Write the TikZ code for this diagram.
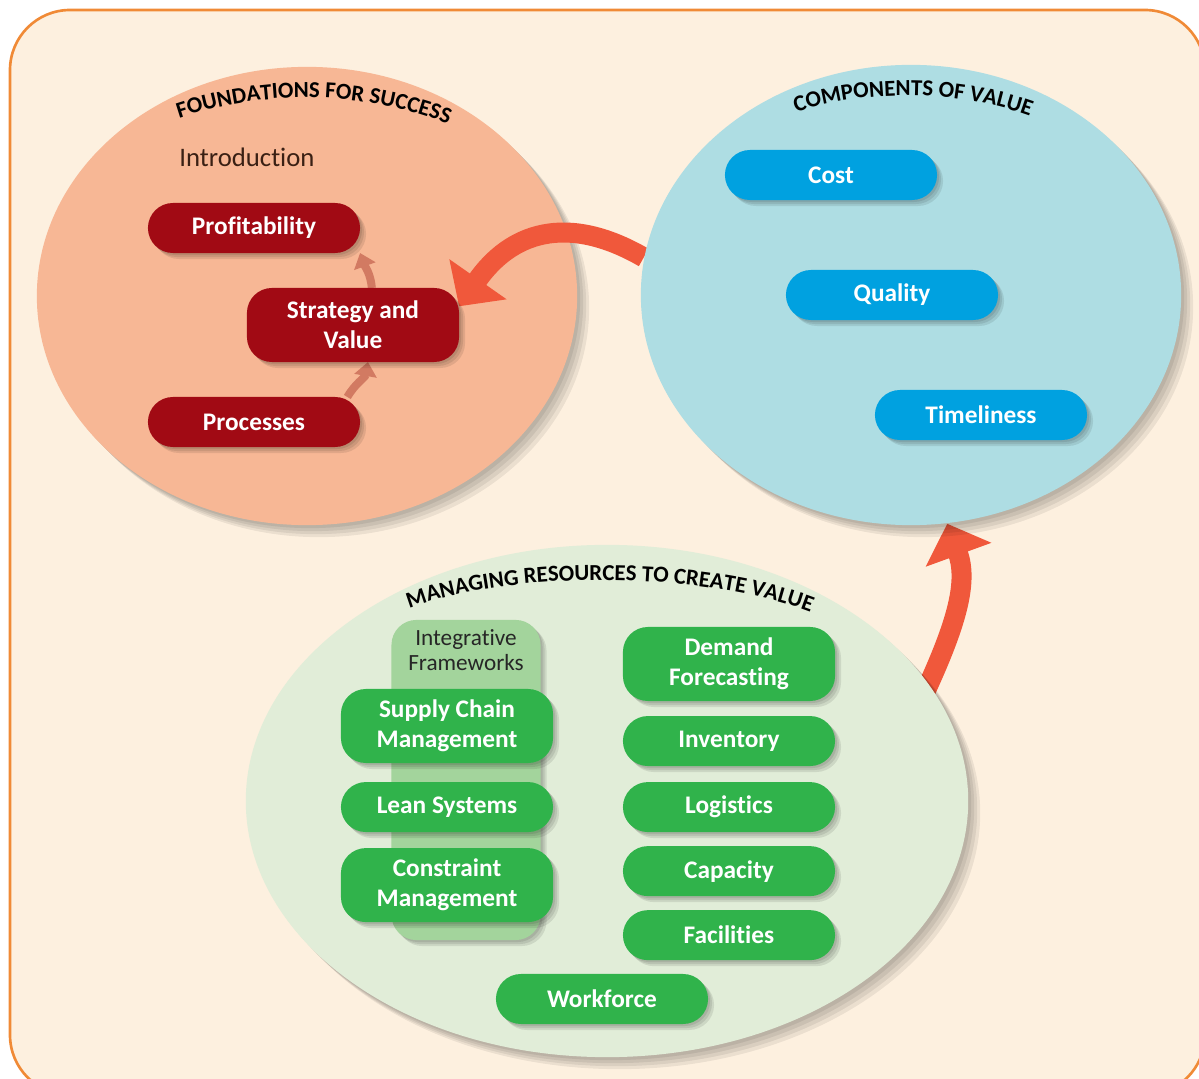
\documentclass[tikz,border=0pt]{standalone}
\usepackage{fontspec}
\setmainfont{Carlito}[Ligatures=NoCommon]
\usetikzlibrary{positioning, arrows.meta, decorations.text, shapes.geometric, shadows}
\definecolor{framefill}{HTML}{FDF0DF}
\definecolor{frameline}{HTML}{F08A36}
\definecolor{foundfill}{HTML}{F7B795}
\definecolor{compfill}{HTML}{AEDDE3}
\definecolor{managefill}{HTML}{E1EDD8}
\definecolor{pillred}{HTML}{A10A14}
\definecolor{pillblue}{HTML}{00A1E0}
\definecolor{pillgreen}{HTML}{30B34B}
\definecolor{integfill}{HTML}{A3D49C}
\definecolor{bigorange}{HTML}{F0583B}
\definecolor{smallorange}{HTML}{D27A62}
\definecolor{introcol}{HTML}{3A2014}
\newcommand{\pillfont}{\fontsize{7.2}{8.5}\selectfont\bfseries}
\newcommand{\titlefont}{\fontsize{6.5}{8}\selectfont\bfseries}
\pgfdeclarelayer{back}
\pgfdeclarelayer{links}
\pgfsetlayers{back,links,main}
\tikzset{
    outerbox/.style={draw=frameline, line width=0.75pt, fill=framefill, rounded corners=0.6cm},
    zoneshadow/.style={
        general shadow={fill=black, opacity=0.07, shadow xshift=0.03cm, shadow yshift=-0.03cm},
        general shadow={fill=black, opacity=0.07, shadow xshift=0.06cm, shadow yshift=-0.06cm},
        general shadow={fill=black, opacity=0.07, shadow xshift=0.09cm, shadow yshift=-0.09cm},
        general shadow={fill=black, opacity=0.07, shadow xshift=0.12cm, shadow yshift=-0.12cm}},
    pillshadow/.style={
        general shadow={fill=black, opacity=0.09, shadow xshift=0.02cm, shadow yshift=-0.02cm},
        general shadow={fill=black, opacity=0.09, shadow xshift=0.04cm, shadow yshift=-0.04cm},
        general shadow={fill=black, opacity=0.09, shadow xshift=0.06cm, shadow yshift=-0.06cm}},
    zone/.style={ellipse, inner sep=0pt, zoneshadow},
    pill/.style={rectangle, rounded corners=0.25cm, minimum width=2.12cm, minimum height=0.5cm, inner sep=0pt, outer sep=0pt, text=white, align=center, font=\pillfont, pillshadow},
    tall/.style={minimum height=0.74cm},
    fpill/.style={pill, fill=pillred},
    cpill/.style={pill, fill=pillblue},
    mpill/.style={pill, fill=pillgreen},
    intback/.style={rectangle, rounded corners=0.25cm, fill=integfill, minimum width=1.49cm, minimum height=3.2cm, pillshadow},
    intlabel/.style={font=\fontsize{6.6}{7.1}\selectfont, text=black!85, align=center, inner sep=0pt},
    introtext/.style={font=\fontsize{7.6}{9}\selectfont, text=introcol},
    zonetitle/.style={decorate, decoration={text along path, text align=center, text={|\titlefont|#1}}},
    bigarrow/.style={-{Triangle[width=0.68cm, length=0.33cm]}, line width=0.2cm, draw=bigorange},
    smallarrow/.style={-{Triangle[width=0.22cm, length=0.14cm]}, line width=0.08cm, draw=smallorange} }
\begin{document}
\begin{tikzpicture}[x=0.01cm, y=-0.01cm, node distance=0.15cm]
  \useasboundingbox (0,0) rectangle (1199,1079);
  \begin{pgfonlayer}{back}
    \draw[outerbox] (10,10) rectangle (1205,1095);
    \node[zone, fill=foundfill, minimum width=5.4cm, minimum height=4.58cm] (found) at (307,296) {};
  \end{pgfonlayer}
  \node[zone, fill=compfill, minimum width=5.4cm, minimum height=4.6cm] (comp) at (911,295) {};
  \node[zone, fill=managefill, minimum width=7.22cm, minimum height=5.12cm] (manage) at (607,801) {};
  % ---- titles
  \path[zonetitle=FOUNDATIONS FOR SUCCESS] (165,123) .. controls (260,88) and (365,88) .. (462,130);
  \path[zonetitle=COMPONENTS OF VALUE] (786,116) .. controls (860,88) and (960,88) .. (1040,120);
  \path[zonetitle=MANAGING RESOURCES TO CREATE VALUE] (400,612) .. controls (500,569) and (710,569) .. (820,616);
  % ---- foundations
  \node[introtext] (intro) at (247,157) {Introduction};
  \node[fpill] (prof) at (254,228) {Profitability};
  \node[fpill, tall] (strat) at (353,325) {Strategy and\\Value};
  \node[fpill] (proc) at (254,422) {Processes};
  % ---- components
  \node[cpill] (cost) at (831,175) {Cost};
  \node[cpill] (qual) at (892,295) {Quality};
  \node[cpill] (time) at (981,415) {Timeliness};
  % ---- resources
  \node[intback] (integ) at (466,780) {};
  \node[intlabel, below=0.1cm of integ.north] (intlab) {Integrative\\Frameworks};
  \node[mpill, tall] (scm) at (447,726) {Supply Chain\\Management};
  \node[mpill, below=0.19cm of scm] (lean) {Lean Systems};
  \node[mpill, tall, below=0.16cm of lean] (cons) {Constraint\\Management};
  \node[mpill, tall] (dem) at (729,664) {Demand\\Forecasting};
  \node[mpill, below=of dem] (inv) {Inventory};
  \node[mpill, below=0.16cm of inv] (logi) {Logistics};
  \node[mpill, below=0.14cm of logi] (capa) {Capacity};
  \node[mpill, below=0.14cm of capa] (faci) {Facilities};
  \node[mpill] (work) at (602,999) {Workforce};
  % ---- links
  \begin{pgfonlayer}{links}
    \draw[bigarrow, looseness=1.2] (comp.172) to[out=150, in=55] (strat.10);
    \draw[bigarrow, shorten <=-0.15cm] (manage.20) to[out=65, in=-70] (comp.-81);
    \draw[smallarrow] (strat.63) to[out=95, in=-70] (prof.south east);
    \draw[smallarrow] (proc.15) to[out=60, in=-100] (strat.-68);
  \end{pgfonlayer}
\end{tikzpicture}
\end{document}
